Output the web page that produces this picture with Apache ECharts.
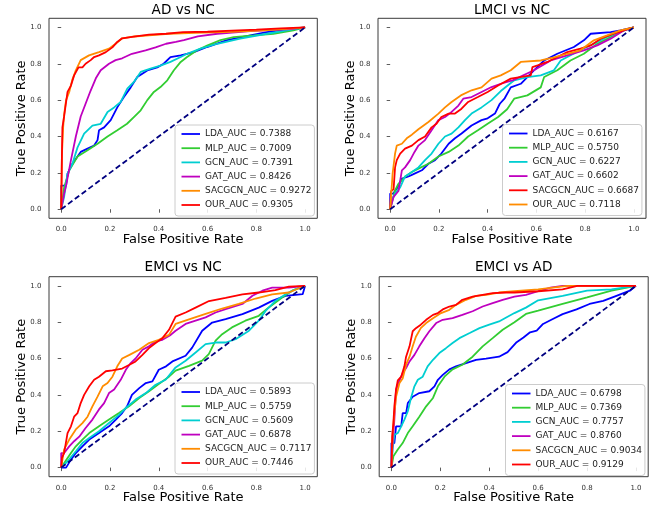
<!DOCTYPE html>
<html>
<head>
<meta charset="utf-8">
<script src="https://cdn.jsdelivr.net/npm/echarts/dist/echarts.min.js"></script>
<style>
html,body{margin:0;padding:0;background:#fff;}
#chart{width:661px;height:507px;}
</style>
</head>
<body>
<div id="chart"></div>
<script>
// ---------- data ----------
const TICKS = [0, 0.2, 0.4, 0.6, 0.8, 1.0];
const TITLES = ['AD vs NC', 'LMCI vs NC', 'EMCI vs NC', 'EMCI vs AD'];
const MODELS = ['LDA', 'MLP', 'GCN', 'GAT', 'SACGCN', 'OUR'];
const AUC_AD_NC = ['0.7388', '0.7009', '0.7391', '0.8426', '0.9272', '0.9305'];
const AUC_LMCI_NC = ['0.6167', '0.5750', '0.6227', '0.6602', '0.6687', '0.7118'];
const AUC_EMCI_NC = ['0.5893', '0.5759', '0.5609', '0.6878', '0.7117', '0.7446'];
const AUC_EMCI_AD = ['0.6798', '0.7369', '0.7757', '0.8760', '0.9034', '0.9129'];
const COLORS_MAIN = ['#0000ff', '#32cd32', '#00ced1', '#bf00bf', '#ff8c00', '#ff0000'];
const COLORS_LMCI = ['#0000ff', '#32cd32', '#00ced1', '#bf00bf', '#ff0000', '#ff8c00'];
const DIAGONAL = [[0, 0], [1, 1]];

// AD vs NC
const AD_NC_LDA = [[0,0],[0,0.13],[0.02,0.13],[0.026,0.196],[0.046,0.25],[0.08,0.315],[0.108,0.333],[0.135,0.35],[0.149,0.38],[0.155,0.434],[0.176,0.45],[0.203,0.49],[0.23,0.56],[0.257,0.617],[0.285,0.67],[0.312,0.727],[0.353,0.763],[0.394,0.78],[0.42,0.8],[0.448,0.837],[0.49,0.846],[0.544,0.864],[0.598,0.892],[0.68,0.93],[0.775,0.956],[0.843,0.974],[0.91,0.987],[1,1]];
const AD_NC_MLP = [[0,0],[0.012,0.12],[0.033,0.214],[0.067,0.29],[0.108,0.324],[0.149,0.36],[0.19,0.4],[0.23,0.434],[0.27,0.47],[0.298,0.507],[0.326,0.544],[0.353,0.6],[0.38,0.645],[0.407,0.672],[0.435,0.709],[0.462,0.764],[0.49,0.81],[0.516,0.837],[0.557,0.874],[0.598,0.9],[0.653,0.93],[0.707,0.947],[0.79,0.956],[0.87,0.965],[0.952,0.983],[1,1]];
const AD_NC_GCN = [[0,0],[0.012,0.068],[0.026,0.196],[0.046,0.25],[0.067,0.34],[0.094,0.416],[0.128,0.46],[0.162,0.47],[0.19,0.535],[0.217,0.56],[0.244,0.59],[0.271,0.663],[0.298,0.7],[0.326,0.755],[0.366,0.773],[0.407,0.79],[0.448,0.81],[0.49,0.837],[0.516,0.855],[0.571,0.883],[0.64,0.91],[0.734,0.938],[0.843,0.965],[0.925,0.983],[1,1]];
const AD_NC_GAT = [[0,0],[0.012,0.086],[0.019,0.123],[0.04,0.27],[0.06,0.4],[0.08,0.51],[0.1,0.58],[0.12,0.65],[0.142,0.72],[0.162,0.764],[0.196,0.8],[0.223,0.82],[0.25,0.83],[0.29,0.855],[0.346,0.874],[0.387,0.89],[0.43,0.91],[0.47,0.92],[0.503,0.93],[0.56,0.95],[0.64,0.965],[0.775,0.98],[0.94,0.99],[1,1]];
const AD_NC_SACGCN = [[0,0],[0.003,0.3],[0.008,0.45],[0.012,0.52],[0.02,0.6],[0.033,0.645],[0.045,0.71],[0.06,0.764],[0.08,0.82],[0.114,0.846],[0.155,0.864],[0.196,0.883],[0.223,0.91],[0.25,0.94],[0.3,0.95],[0.36,0.956],[0.44,0.965],[0.55,0.97],[0.7,0.975],[0.85,0.985],[0.95,0.995],[1,1]];
const AD_NC_OUR = [[0,0],[0.003,0.3],[0.005,0.45],[0.012,0.51],[0.019,0.58],[0.026,0.645],[0.04,0.68],[0.053,0.736],[0.071,0.78],[0.087,0.78],[0.1,0.8],[0.121,0.82],[0.135,0.837],[0.155,0.846],[0.183,0.864],[0.21,0.89],[0.23,0.92],[0.25,0.94],[0.305,0.95],[0.36,0.96],[0.43,0.965],[0.5,0.974],[0.6,0.976],[0.7,0.982],[0.8,0.988],[0.9,0.995],[1,1]];

// LMCI vs NC
const LMCI_NC_LDA = [[0,0],[0,0.086],[0.013,0.086],[0.027,0.114],[0.048,0.168],[0.075,0.18],[0.1,0.196],[0.13,0.214],[0.157,0.25],[0.184,0.27],[0.21,0.306],[0.24,0.36],[0.266,0.39],[0.293,0.416],[0.334,0.46],[0.375,0.49],[0.4,0.5],[0.43,0.526],[0.45,0.58],[0.47,0.61],[0.495,0.67],[0.536,0.69],[0.563,0.727],[0.59,0.764],[0.632,0.818],[0.686,0.855],[0.754,0.892],[0.795,0.929],[0.823,0.965],[0.905,0.974],[0.945,0.984],[1,1]];
const LMCI_NC_MLP = [[0,0],[0.02,0.104],[0.034,0.14],[0.061,0.178],[0.089,0.205],[0.116,0.223],[0.157,0.25],[0.198,0.29],[0.24,0.315],[0.28,0.35],[0.32,0.4],[0.36,0.434],[0.4,0.47],[0.443,0.507],[0.48,0.55],[0.509,0.608],[0.563,0.626],[0.618,0.67],[0.632,0.727],[0.686,0.764],[0.74,0.818],[0.795,0.855],[0.85,0.91],[0.905,0.947],[0.96,0.984],[1,1]];
const LMCI_NC_GCN = [[0,0],[0.007,0.05],[0.02,0.086],[0.041,0.12],[0.061,0.18],[0.089,0.205],[0.116,0.23],[0.143,0.27],[0.17,0.306],[0.198,0.36],[0.225,0.4],[0.252,0.416],[0.28,0.45],[0.307,0.49],[0.334,0.526],[0.375,0.56],[0.416,0.6],[0.454,0.65],[0.509,0.709],[0.563,0.727],[0.618,0.736],[0.672,0.764],[0.7,0.818],[0.727,0.837],[0.78,0.874],[0.836,0.91],[0.89,0.947],[0.96,0.984],[1,1]];
const LMCI_NC_GAT = [[0,0],[0.014,0.068],[0.034,0.1],[0.048,0.214],[0.061,0.23],[0.082,0.27],[0.1,0.315],[0.116,0.35],[0.143,0.38],[0.17,0.434],[0.198,0.49],[0.225,0.507],[0.252,0.535],[0.28,0.57],[0.3,0.608],[0.334,0.617],[0.375,0.645],[0.416,0.672],[0.454,0.69],[0.505,0.71],[0.59,0.764],[0.659,0.818],[0.727,0.846],[0.795,0.874],[0.85,0.901],[0.905,0.938],[0.96,0.984],[1,1]];
const LMCI_NC_SACGCN = [[0,0],[0.004,0.1],[0.014,0.11],[0.02,0.23],[0.027,0.27],[0.041,0.306],[0.061,0.333],[0.089,0.35],[0.116,0.38],[0.143,0.4],[0.17,0.45],[0.19,0.47],[0.21,0.507],[0.24,0.526],[0.266,0.526],[0.293,0.553],[0.32,0.59],[0.36,0.617],[0.4,0.645],[0.443,0.68],[0.495,0.718],[0.577,0.736],[0.584,0.782],[0.605,0.791],[0.645,0.81],[0.686,0.837],[0.727,0.864],[0.781,0.883],[0.823,0.901],[0.864,0.938],[0.918,0.965],[0.98,0.993],[1,1]];
const LMCI_NC_OUR = [[0,0],[0.01,0.196],[0.02,0.306],[0.027,0.35],[0.048,0.36],[0.068,0.39],[0.089,0.41],[0.116,0.44],[0.157,0.48],[0.198,0.526],[0.225,0.56],[0.252,0.59],[0.29,0.626],[0.334,0.654],[0.375,0.67],[0.416,0.718],[0.454,0.736],[0.495,0.764],[0.536,0.81],[0.543,0.818],[0.618,0.818],[0.672,0.835],[0.727,0.855],[0.781,0.874],[0.836,0.929],[0.89,0.956],[0.945,0.984],[1,1]];

// EMCI vs NC
const EMCI_NC_LDA = [[0,0],[0.02,0],[0.04,0.044],[0.06,0.08],[0.087,0.117],[0.115,0.154],[0.155,0.19],[0.196,0.227],[0.224,0.264],[0.25,0.3],[0.27,0.337],[0.29,0.4],[0.32,0.437],[0.347,0.465],[0.374,0.474],[0.4,0.538],[0.43,0.557],[0.456,0.584],[0.51,0.615],[0.537,0.66],[0.578,0.753],[0.619,0.798],[0.674,0.817],[0.743,0.844],[0.81,0.88],[0.865,0.917],[0.92,0.945],[0.99,0.954],[1,1]];
const EMCI_NC_MLP = [[0,0],[0.02,0.04],[0.04,0.08],[0.06,0.117],[0.087,0.154],[0.115,0.19],[0.155,0.227],[0.196,0.264],[0.237,0.3],[0.278,0.337],[0.32,0.383],[0.36,0.42],[0.4,0.46],[0.442,0.5],[0.469,0.533],[0.524,0.56],[0.578,0.588],[0.605,0.624],[0.633,0.698],[0.66,0.734],[0.7,0.771],[0.755,0.808],[0.81,0.835],[0.851,0.881],[0.906,0.936],[0.947,0.973],[1,1]];
const EMCI_NC_GCN = [[0,0],[0.026,0.035],[0.06,0.09],[0.087,0.135],[0.115,0.163],[0.155,0.2],[0.196,0.245],[0.237,0.29],[0.265,0.328],[0.305,0.374],[0.347,0.41],[0.387,0.456],[0.428,0.483],[0.469,0.551],[0.51,0.588],[0.551,0.633],[0.592,0.679],[0.633,0.688],[0.674,0.688],[0.715,0.706],[0.77,0.753],[0.81,0.808],[0.838,0.862],[0.878,0.917],[0.92,0.954],[0.96,0.981],[1,1]];
const EMCI_NC_GAT = [[0,0],[0,0.08],[0.012,0.08],[0.033,0.117],[0.053,0.145],[0.074,0.17],[0.1,0.218],[0.128,0.264],[0.155,0.32],[0.176,0.355],[0.196,0.41],[0.217,0.43],[0.244,0.483],[0.265,0.538],[0.285,0.575],[0.305,0.6],[0.333,0.648],[0.36,0.667],[0.387,0.694],[0.415,0.703],[0.449,0.73],[0.469,0.753],[0.51,0.79],[0.551,0.808],[0.592,0.826],[0.633,0.853],[0.674,0.872],[0.743,0.9],[0.784,0.945],[0.825,0.973],[0.865,0.99],[0.933,0.99],[1,1]];
const EMCI_NC_SACGCN = [[0,0],[0.012,0.1],[0.033,0.154],[0.06,0.21],[0.087,0.245],[0.108,0.28],[0.128,0.337],[0.149,0.39],[0.17,0.447],[0.19,0.465],[0.21,0.5],[0.23,0.557],[0.25,0.6],[0.28,0.62],[0.32,0.648],[0.36,0.685],[0.4,0.703],[0.442,0.73],[0.469,0.79],[0.524,0.815],[0.592,0.845],[0.66,0.875],[0.728,0.9],[0.797,0.93],[0.865,0.953],[0.933,0.963],[1,1]];
const EMCI_NC_OUR = [[0,0],[0.003,0.053],[0.012,0.08],[0.019,0.135],[0.026,0.19],[0.04,0.227],[0.053,0.28],[0.067,0.3],[0.08,0.355],[0.094,0.4],[0.115,0.447],[0.135,0.483],[0.155,0.5],[0.183,0.53],[0.21,0.535],[0.25,0.545],[0.28,0.566],[0.305,0.584],[0.333,0.62],[0.36,0.657],[0.387,0.685],[0.415,0.712],[0.442,0.758],[0.469,0.83],[0.51,0.853],[0.551,0.88],[0.606,0.916],[0.674,0.934],[0.743,0.953],[0.81,0.963],[0.878,0.976],[0.933,0.995],[1,1]];

// EMCI vs AD
const EMCI_AD_LDA = [[0,0],[0,0.135],[0.012,0.135],[0.019,0.227],[0.04,0.227],[0.046,0.3],[0.06,0.3],[0.067,0.355],[0.087,0.39],[0.114,0.41],[0.155,0.42],[0.176,0.447],[0.19,0.483],[0.21,0.51],[0.237,0.54],[0.264,0.557],[0.305,0.575],[0.346,0.593],[0.387,0.6],[0.44,0.61],[0.475,0.635],[0.512,0.69],[0.54,0.716],[0.567,0.744],[0.594,0.753],[0.62,0.79],[0.66,0.817],[0.7,0.844],[0.757,0.87],[0.81,0.9],[0.866,0.917],[0.92,0.945],[0.975,0.973],[1,1]];
const EMCI_AD_MLP = [[0,0],[0.008,0.062],[0.026,0.1],[0.046,0.135],[0.067,0.19],[0.087,0.227],[0.114,0.28],[0.142,0.337],[0.17,0.383],[0.19,0.447],[0.217,0.5],[0.25,0.54],[0.29,0.566],[0.332,0.61],[0.373,0.667],[0.414,0.712],[0.455,0.758],[0.503,0.8],[0.55,0.845],[0.6,0.863],[0.7,0.9],[0.8,0.936],[0.9,0.973],[1,1]];
const EMCI_AD_GCN = [[0,0],[0.005,0.1],[0.012,0.18],[0.026,0.19],[0.04,0.227],[0.053,0.264],[0.067,0.31],[0.08,0.383],[0.094,0.447],[0.108,0.483],[0.128,0.5],[0.148,0.557],[0.17,0.593],[0.196,0.63],[0.223,0.657],[0.25,0.685],[0.278,0.712],[0.32,0.74],[0.36,0.767],[0.4,0.786],[0.44,0.804],[0.475,0.83],[0.503,0.85],[0.55,0.88],[0.6,0.92],[0.7,0.945],[0.8,0.973],[0.9,0.98],[1,1]];
const EMCI_AD_GAT = [[0,0],[0.005,0.135],[0.012,0.264],[0.019,0.43],[0.033,0.48],[0.046,0.52],[0.06,0.548],[0.074,0.584],[0.094,0.62],[0.114,0.667],[0.135,0.712],[0.155,0.75],[0.183,0.795],[0.21,0.813],[0.25,0.822],[0.29,0.84],[0.332,0.86],[0.373,0.886],[0.414,0.905],[0.455,0.923],[0.503,0.94],[0.55,0.95],[0.6,0.97],[0.65,0.99],[0.7,1],[1,1]];
const EMCI_AD_SACGCN = [[0,0],[0.005,0.19],[0.012,0.3],[0.019,0.39],[0.033,0.465],[0.046,0.49],[0.06,0.566],[0.074,0.61],[0.087,0.667],[0.1,0.72],[0.12,0.767],[0.142,0.795],[0.17,0.822],[0.203,0.85],[0.237,0.868],[0.264,0.895],[0.305,0.923],[0.346,0.945],[0.387,0.95],[0.44,0.963],[0.503,0.97],[0.6,0.98],[0.72,1],[1,1]];
const EMCI_AD_OUR = [[0,0],[0.003,0.17],[0.008,0.245],[0.012,0.337],[0.019,0.43],[0.026,0.48],[0.04,0.5],[0.053,0.557],[0.06,0.61],[0.074,0.667],[0.087,0.75],[0.1,0.767],[0.12,0.786],[0.142,0.813],[0.17,0.84],[0.19,0.85],[0.21,0.87],[0.237,0.886],[0.264,0.895],[0.29,0.923],[0.332,0.94],[0.373,0.95],[0.414,0.96],[0.47,0.963],[0.503,0.963],[0.6,0.97],[0.7,0.98],[0.76,1],[1,1]];

// ---------- assembly ----------
const PANELS = [
  { title: TITLES[0], auc: AUC_AD_NC, colors: COLORS_MAIN, curves: [AD_NC_LDA, AD_NC_MLP, AD_NC_GCN, AD_NC_GAT, AD_NC_SACGCN, AD_NC_OUR] },
  { title: TITLES[1], auc: AUC_LMCI_NC, colors: COLORS_LMCI, curves: [LMCI_NC_LDA, LMCI_NC_MLP, LMCI_NC_GCN, LMCI_NC_GAT, LMCI_NC_SACGCN, LMCI_NC_OUR] },
  { title: TITLES[2], auc: AUC_EMCI_NC, colors: COLORS_MAIN, curves: [EMCI_NC_LDA, EMCI_NC_MLP, EMCI_NC_GCN, EMCI_NC_GAT, EMCI_NC_SACGCN, EMCI_NC_OUR] },
  { title: TITLES[3], auc: AUC_EMCI_AD, colors: COLORS_MAIN, curves: [EMCI_AD_LDA, EMCI_AD_MLP, EMCI_AD_GCN, EMCI_AD_GAT, EMCI_AD_SACGCN, EMCI_AD_OUR] }
];

const LAYOUT = [
  { grid: { left: 49, top: 18.3, width: 268.3, height: 200 }, legend: { left: 175, top: 125 }, title: { x: 183.2, y: 10 } },
  { grid: { left: 378, top: 18.3, width: 268, height: 200 }, legend: { left: 502.5, top: 124.5 }, title: { x: 512, y: 10 } },
  { grid: { left: 49, top: 276.7, width: 268.3, height: 200 }, legend: { left: 175, top: 383 }, title: { x: 183.2, y: 267 } },
  { grid: { left: 379.2, top: 276.7, width: 269, height: 200 }, legend: { left: 505.5, top: 384.5 }, title: { x: 513.7, y: 267 } }
];

const FONT = 'DejaVu Sans';
const LINE_W = 1.8;
const grid = [], xAxis = [], yAxis = [], series = [], legend = [], title = [];

PANELS.forEach((p, i) => {
  const L = LAYOUT[i];
  grid.push(Object.assign({ show: true, borderColor: '#3a3a3a', borderWidth: 1, backgroundColor: '#fff' }, L.grid));
  title.push({
    text: p.title, left: L.title.x, top: L.title.y, textAlign: 'center', textVerticalAlign: 'middle', padding: 0,
    textStyle: { fontFamily: FONT, fontSize: 13.6, fontWeight: 'normal', color: '#000' }
  });
  const axisCommon = {
    type: 'value', gridIndex: i, min: -0.05, max: 1.05,
    splitLine: { show: false },
    axisLine: { show: false },
    axisTick: { show: true, customValues: TICKS, length: 3.5, inside: false, lineStyle: { color: '#333', width: 0.8 } },
    axisLabel: { customValues: TICKS, formatter: v => v.toFixed(1), fontFamily: FONT, fontSize: 7, color: '#333', margin: 7.5 },
    nameLocation: 'middle', nameMoveOverlap: false,
    nameTextStyle: { fontFamily: FONT, fontSize: 13, color: '#000' }
  };
  xAxis.push(Object.assign({}, axisCommon, { name: 'False Positive Rate', nameGap: 14.5 }));
  yAxis.push(Object.assign({}, axisCommon, { name: 'True Positive Rate', nameGap: 21 }));
  const names = [];
  MODELS.forEach((m, k) => {
    const nm = m + '_AUC = ' + p.auc[k];
    names.push(nm);
    series.push({
      type: 'line', name: nm, xAxisIndex: i, yAxisIndex: i,
      data: p.curves[k], symbol: 'none', showSymbol: false, smooth: false, animation: false,
      lineStyle: { color: p.colors[k], width: LINE_W }, itemStyle: { color: p.colors[k] }, z: 2 + k * 0.01
    });
  });
  series.push({
    type: 'line', name: 'diag' + i, xAxisIndex: i, yAxisIndex: i, data: DIAGONAL,
    symbol: 'none', animation: false, silent: true,
    lineStyle: { color: '#000080', width: LINE_W, type: [5.5, 3] }, z: 3
  });
  legend.push({
    data: names, orient: 'vertical', left: L.legend.left, top: L.legend.top,
    icon: 'rect', itemWidth: 18.5, itemHeight: 1.8, itemGap: 4.2,
    padding: [4, 3, 6, 6.5],
    backgroundColor: 'rgba(255,255,255,0.85)', borderColor: '#cccccc', borderWidth: 1, borderRadius: 3,
    selectedMode: false,
    textStyle: { fontFamily: FONT, fontSize: 9, color: '#222', lineHeight: 10 }
  });
});

const chart = echarts.init(document.getElementById('chart'), null, { renderer: 'canvas' });
chart.setOption({ animation: false, backgroundColor: '#fff', title, grid, xAxis, yAxis, legend, series });
</script>
</body>
</html>
